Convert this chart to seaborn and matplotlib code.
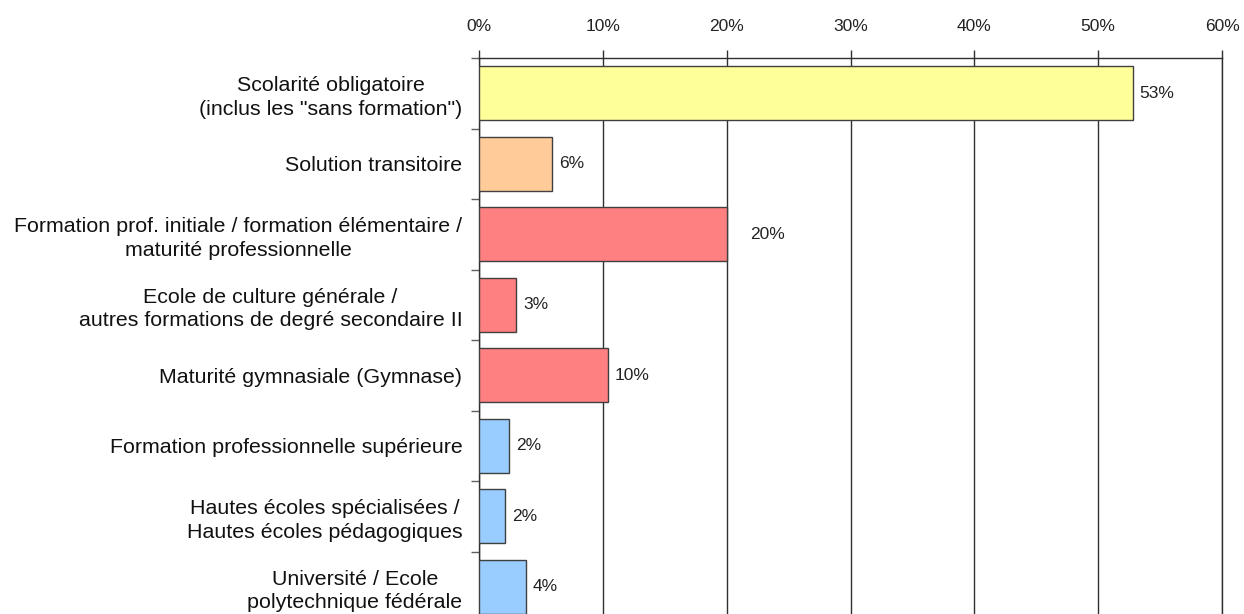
import matplotlib
matplotlib.use("Agg")
import matplotlib.pyplot as plt
import seaborn as sns
import pandas as pd
import numpy as np

# categories (top to bottom) and shares in percent
categories = [
    'Scolarité obligatoire\n(inclus les "sans formation")',
    'Solution transitoire',
    'Formation prof. initiale / formation élémentaire /\nmaturité professionnelle',
    'Ecole de culture générale /\nautres formations de degré secondaire II',
    'Maturité gymnasiale (Gymnase)',
    'Formation professionnelle supérieure',
    'Hautes écoles spécialisées /\nHautes écoles pédagogiques',
    'Université / Ecole\npolytechnique fédérale',
]
values = [52.8, 5.9, 20.0, 3.0, 10.4, 2.4, 2.1, 3.8]
bar_colors = ['#FFFF99', '#FFCC99', '#FF8080', '#FF8080',
              '#FF8080', '#99CCFF', '#99CCFF', '#99CCFF']
x_ticks = [0, 10, 20, 30, 40, 50, 60]

df = pd.DataFrame({'cat': categories, 'val': values})

sns.set_style('white')
plt.rcParams['font.family'] = ['Liberation Sans', 'DejaVu Sans']

fig = plt.figure(figsize=(12.44, 6.14), dpi=100)
ax = fig.add_axes([479 / 1244, -8 / 614, (1222 - 479) / 1244, (614 - 58 + 8) / 614])

sns.barplot(data=df, x='val', y='cat', hue='cat', palette=bar_colors,
            saturation=1, legend=False, orient='h', width=0.76,
            edgecolor='#404040', linewidth=1, ax=ax, zorder=3)

ax.set_xlim(0, 60)
ax.set_ylim(len(categories) - 0.5, -0.5)
ax.set_xticks(x_ticks)
ax.set_xticklabels([f'{t}%' for t in x_ticks])
ax.xaxis.tick_top()
ax.grid(axis='x', color='#303030', linewidth=1, zorder=0)
ax.grid(axis='y', visible=False)
ax.set_xlabel('')
ax.set_ylabel('')

ax.tick_params(axis='x', which='major', top=True, length=6, width=1,
               color='#303030', pad=11, labelsize=12.5, labelcolor='#222222')
ax.tick_params(axis='y', which='major', left=False, length=0, pad=12,
               labelsize=15.4, labelcolor='#111111')
# ticks between categories
ax.set_yticks(np.arange(len(categories) + 1) - 0.5, minor=True)
ax.tick_params(axis='y', which='minor', left=True, length=6, width=1,
               color='#606060')
for lbl in ax.get_yticklabels():
    lbl.set_multialignment('center')
    lbl.set_linespacing(1.3)

for s in ['top', 'left', 'right']:
    ax.spines[s].set_color('#303030')
    ax.spines[s].set_linewidth(1)
ax.spines['bottom'].set_visible(False)

extra_pad = {2: 12}
for i, v in enumerate(values):
    ax.annotate(f'{v:.0f}%', xy=(v, i), xytext=(5 + extra_pad.get(i, 0), 0),
                textcoords='offset points', va='center', ha='left',
                fontsize=12.5, color='#222222')

fig.savefig('out.png', dpi=100)
